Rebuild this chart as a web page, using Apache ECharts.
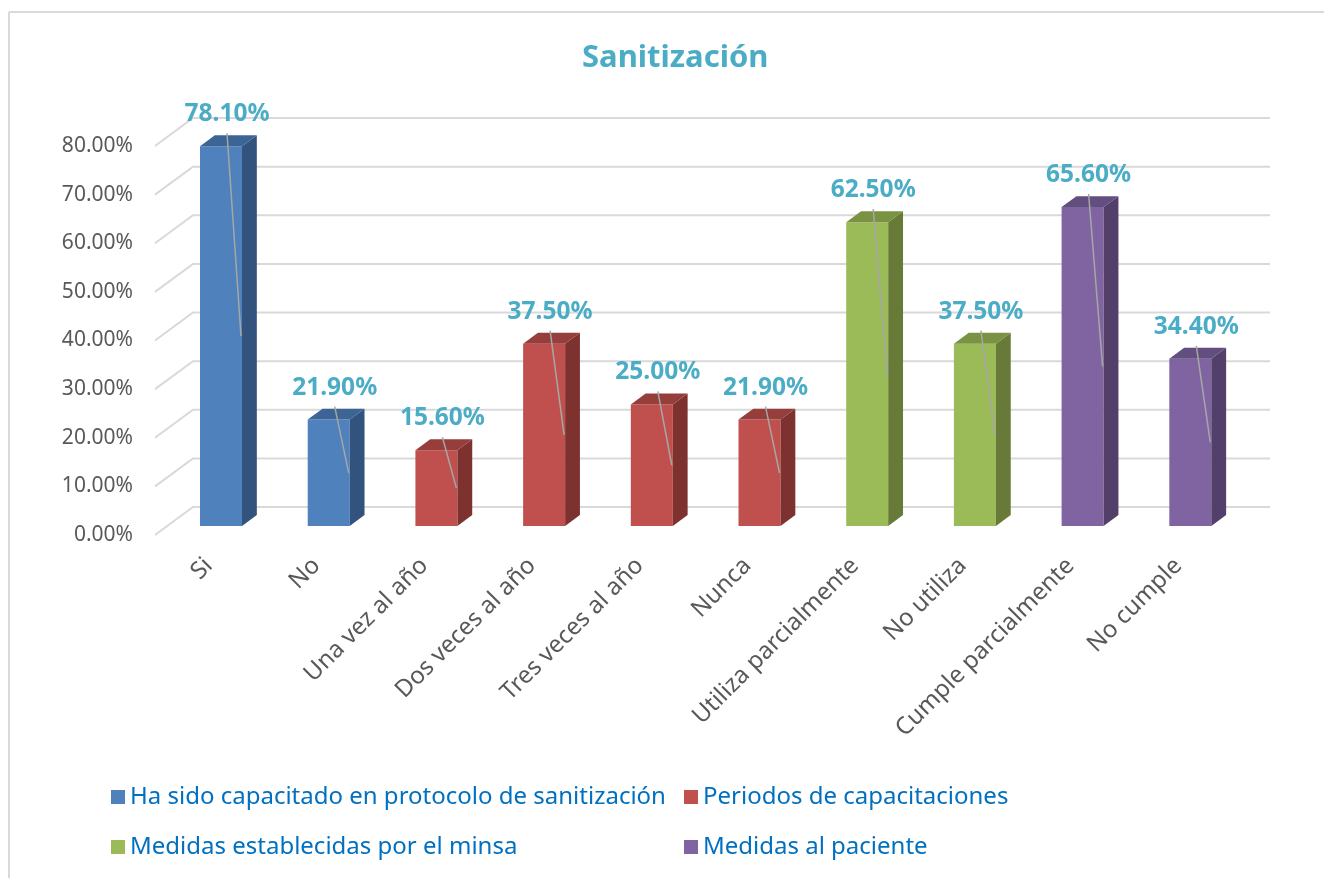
<!DOCTYPE html>
<html>
<head>
<meta charset="utf-8">
<script src="https://cdn.jsdelivr.net/npm/echarts@6/dist/echarts.min.js"></script>
<style>html,body{margin:0;padding:0;background:#fff;}#chart{width:1324px;height:878px;}</style>
</head>
<body>
<div id="chart"></div>
<script>
var categories = ['Si', 'No', 'Una vez al año', 'Dos veces al año', 'Tres veces al año', 'Nunca', 'Utiliza parcialmente', 'No utiliza', 'Cumple parcialmente', 'No cumple'];
var groupNames = ['Ha sido capacitado en protocolo de sanitización', 'Periodos de capacitaciones', 'Medidas establecidas por el minsa', 'Medidas al paciente'];
var groupOfCategory = [0, 0, 1, 1, 1, 1, 2, 2, 3, 3];
var values = [0.781, 0.219, 0.156, 0.375, 0.25, 0.219, 0.625, 0.375, 0.656, 0.344];
var yTicks = [0, 0.1, 0.2, 0.3, 0.4, 0.5, 0.6, 0.7, 0.8];

var frontColors = ['#4F81BD', '#C0504D', '#9BBB59', '#8064A2'];
var topColors = ['#3C6596', '#953E3B', '#7A9342', '#634E80'];
var sideColors = ['#32537D', '#7E3230', '#677A37', '#52406A'];

var DX = 38, DY = 28;      // full floor depth in px
var F0 = 0.32, F1 = 0.39;  // bar front offset / bar depth (fractions of full depth)
var BAR_W = 42;
var FONT = '"Noto Sans", "Open Sans", sans-serif';

function fmt(v) { return (v * 100).toFixed(2) + '%'; }

function barRender(gi) {
  return function (params, api) {
    var x = api.value(0), v = api.value(1);
    var base = api.coord([x, 0]);
    var top = api.coord([x, v]);
    var ox = DX * F0, oy = DY * F0;
    var dx = DX * F1, dy = DY * F1;
    var cx = base[0] + ox;
    var x0 = cx - BAR_W / 2, x1 = cx + BAR_W / 2;
    var yt = top[1] - oy, yb = base[1] - oy;
    var ly = yt - 32, lx = cx + 6;
    return {
      type: 'group',
      children: [
        { type: 'rect', shape: { x: x0, y: yt, width: BAR_W, height: yb - yt }, style: { fill: frontColors[gi] } },
        { type: 'polygon', shape: { points: [[x1, yt], [x1 + dx, yt - dy], [x1 + dx, yb - dy], [x1, yb]] }, style: { fill: sideColors[gi] } },
        { type: 'polygon', shape: { points: [[x0, yt], [x1, yt], [x1 + dx, yt - dy], [x0 + dx, yt - dy]] }, style: { fill: topColors[gi] } },
        { type: 'line', shape: { x1: lx, y1: ly + 19, x2: x1 - 1, y2: (yt + yb) / 2 }, style: { stroke: '#A6A6A6', lineWidth: 1.5 } },
        { type: 'text', x: lx, y: ly, style: { text: fmt(v), fill: '#4BACC6', font: 'bold 24.5px ' + FONT, align: 'center', verticalAlign: 'middle' } }
      ]
    };
  };
}

function gridRender(params, api) {
  var v = api.value(0);
  var p0 = api.coord([0, v]);
  var pn = api.coord([categories.length - 1, v]);
  var band = api.size([1, 0])[0];
  var left = p0[0] - band / 2, right = pn[0] + band / 2;
  return {
    type: 'polyline',
    shape: { points: [[left, p0[1]], [left + DX, p0[1] - DY], [right + DX, p0[1] - DY]] },
    style: { stroke: '#D9D9D9', lineWidth: 2, fill: null }
  };
}

var series = [{
  type: 'custom', name: '_grid', renderItem: gridRender, silent: true,
  data: yTicks.map(function (t) { return [t]; }), encode: { y: 0 }, z: 1
}];
groupNames.forEach(function (name, gi) {
  var data = [];
  categories.forEach(function (c, i) { if (groupOfCategory[i] === gi) data.push([i, values[i]]); });
  series.push({
    type: 'custom', name: name, renderItem: barRender(gi),
    itemStyle: { color: frontColors[gi] },
    data: data, encode: { x: 0, y: 1 }, z: 2
  });
});

function legendAt(i, left, top) {
  return {
    data: [groupNames[i]], left: left, top: top, icon: 'rect', itemWidth: 14, itemHeight: 14,
    textStyle: { color: '#0070C0', fontSize: 24, fontFamily: FONT }, selectedMode: false
  };
}

var chart = echarts.init(document.getElementById('chart'));
chart.setOption({
  animation: false,
  backgroundColor: '#fff',
  title: {
    text: 'Sanitización', left: 577, top: 38,
    textStyle: { color: '#4BACC6', fontSize: 31, fontWeight: 'bold', fontFamily: FONT }
  },
  legend: [legendAt(0, 106, 780), legendAt(1, 679, 780), legendAt(2, 106, 830), legendAt(3, 679, 830)],
  grid: { left: 155, right: 92, top: 146, bottom: 343, containLabel: false },
  xAxis: {
    type: 'category', data: categories,
    axisLine: { show: false }, axisTick: { show: false }, splitLine: { show: false },
    axisLabel: { rotate: 45, interval: 0, margin: 27, color: '#595959', fontSize: 24, fontFamily: FONT }
  },
  yAxis: {
    type: 'value', min: 0, max: 0.8, interval: 0.1,
    axisLine: { show: false }, axisTick: { show: false }, splitLine: { show: false },
    axisLabel: { formatter: fmt, margin: 22, color: '#595959', fontSize: 21, fontFamily: FONT }
  },
  graphic: [
    { type: 'line', shape: { x1: 9, y1: 12, x2: 9, y2: 878 }, style: { stroke: '#D9D9D9', lineWidth: 2 } },
    { type: 'line', shape: { x1: 9, y1: 12, x2: 1324, y2: 12 }, style: { stroke: '#D9D9D9', lineWidth: 2 } }
  ],
  series: series
});
</script>
</body>
</html>
